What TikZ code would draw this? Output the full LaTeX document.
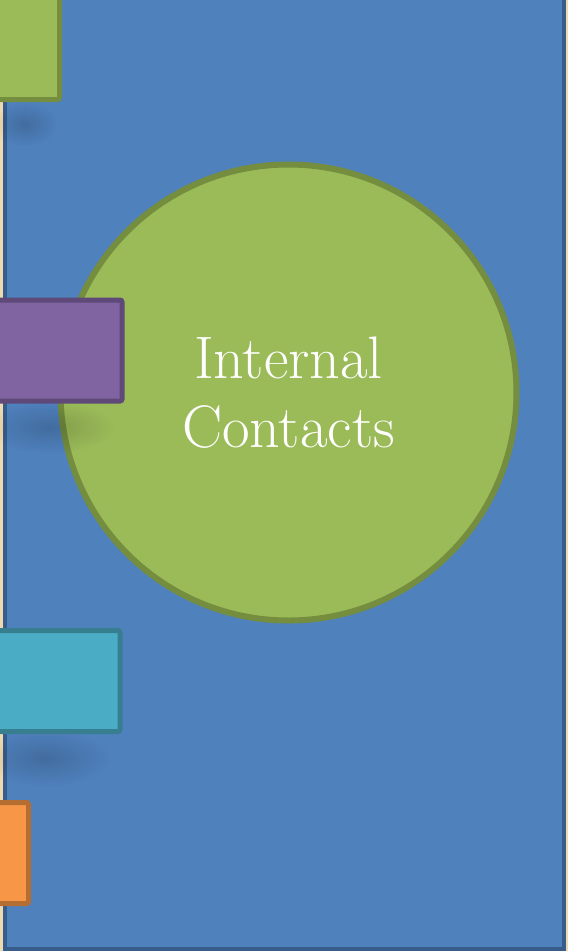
\documentclass[tikz,border=0pt]{standalone}
\usepackage{tikz}
\usetikzlibrary{shapes.geometric,fadings}
\definecolor{panelblue}{RGB}{79,129,189}
\definecolor{paneledge}{RGB}{56,93,138}
\definecolor{tanstrip}{RGB}{238,218,176}
\definecolor{leafgreen}{RGB}{155,187,89}
\definecolor{leafedge}{RGB}{116,141,63}
\definecolor{plum}{RGB}{128,100,162}
\definecolor{plumedge}{RGB}{94,73,120}
\definecolor{aqua}{RGB}{75,172,198}
\definecolor{aquaedge}{RGB}{55,126,145}
\definecolor{tangerine}{RGB}{247,150,70}
\definecolor{tangerineedge}{RGB}{182,109,49}
\tikzfading[name=softspot, inner color=transparent!20, outer color=transparent!100]
\tikzstyle{panel} = [fill=panelblue, draw=paneledge, line width=3pt]
\tikzstyle{tab} = [line width=3.75pt, rounded corners=1.5pt]
\tikzstyle{bigcircle} = [circle, minimum size=342pt, inner sep=0pt, outer sep=0pt, fill=leafgreen, draw=leafedge, line width=4.5pt, text=white, align=center, font=\fontsize{45}{52}\selectfont]
\tikzstyle{tabshadow} = [fill=black, opacity=.2, path fading=softspot]
\begin{document}
\begin{tikzpicture}[x=0.75pt,y=-0.75pt]
\useasboundingbox (0,0) rectangle (568,951);
\fill[tanstrip] (0,0) rectangle (568,951);
\draw[panel] (5,-10) rectangle (563.5,949);
\node (contacts) [bigcircle] at (288.5,392.5) {Internal\\Contacts};
% shadows under the tabs
\fill[tabshadow] (25,124) ellipse (32 and 22);
\fill[tabshadow] (50,427) ellipse (65 and 26);
\fill[tabshadow] (45,758) ellipse (65 and 28);
\draw[tab, fill=leafgreen, draw=leafedge] (-10,-10) rectangle (59.5,99.5);
\draw[tab, fill=plum, draw=plumedge] (-10,300) rectangle (122,401);
\draw[tab, fill=aqua, draw=aquaedge] (-10,630.5) rectangle (120,731.5);
\draw[tab, fill=tangerine, draw=tangerineedge] (-10,802.5) rectangle (28.5,903.5);
\end{tikzpicture}
\end{document}
